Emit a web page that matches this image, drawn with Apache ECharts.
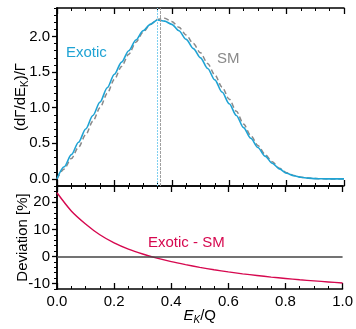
<!DOCTYPE html>
<html>
<head>
<meta charset="utf-8">
<script src="https://cdn.jsdelivr.net/npm/echarts@6/dist/echarts.min.js"></script>
<style>
  html, body { margin: 0; padding: 0; background: #fff; }
  #chart { width: 356px; height: 329px; }
</style>
</head>
<body>
<div id="chart"></div>
<script>
// E_K/Q grid for the spectra
const xs = [0, 0.025, 0.05, 0.075, 0.1, 0.125, 0.15, 0.175, 0.2, 0.225, 0.25, 0.275, 0.3, 0.325, 0.35, 0.375, 0.4,
  0.425, 0.45, 0.475, 0.5, 0.525, 0.55, 0.575, 0.6, 0.625, 0.65, 0.675, 0.7, 0.725, 0.75, 0.775, 0.8,
  0.825, 0.85, 0.875, 0.9, 0.925, 0.95, 0.975, 1.0];
const exotic = [0, 0.17, 0.34, 0.515, 0.70, 0.89, 1.08, 1.28, 1.47, 1.64, 1.80, 1.95, 2.08, 2.17, 2.232, 2.215, 2.17,
  2.08, 1.96, 1.83, 1.70, 1.55, 1.39, 1.22, 1.055, 0.89, 0.72, 0.57, 0.44, 0.32, 0.22, 0.14, 0.08,
  0.045, 0.022, 0.01, 0.004, 0.001, 0, 0, 0];
const sm = [0, 0.14, 0.285, 0.445, 0.62, 0.81, 1.00, 1.20, 1.40, 1.58, 1.75, 1.92, 2.06, 2.17, 2.24, 2.255, 2.21,
  2.13, 2.02, 1.90, 1.77, 1.62, 1.46, 1.29, 1.12, 0.95, 0.77, 0.61, 0.47, 0.345, 0.24, 0.15, 0.087,
  0.049, 0.024, 0.011, 0.004, 0.001, 0, 0, 0];
// deviation (Exotic - SM) in percent
const devX = [0, 0.05, 0.1, 0.15, 0.2, 0.25, 0.3, 0.35, 0.4, 0.45, 0.5, 0.55, 0.6, 0.65, 0.7, 0.75, 0.8, 0.85, 0.9, 0.95, 1.0];
const dev = [23.5, 16.8, 12.0, 8.0, 5.0, 2.7, 0.9, -0.6, -1.9, -3.0, -4.0, -4.9, -5.7, -6.4, -7.0, -7.6, -8.1, -8.6, -9.0, -9.4, -9.8];
// peak positions (vertical markers)
const peakExotic = 0.351;
const peakSM = 0.363;

const CYAN = '#1fa3d4';
const GRAY = '#8a8a8a';
const RED = '#d6084f';
const FONT = 'Liberation Sans';

const pairs = (a, b) => a.map((x, i) => [x, b[i]]);

const mychart = echarts.init(document.getElementById('chart'));

function xAx(grid, pos, labels) {
  return {
    type: 'value', gridIndex: grid, position: pos, min: 0, max: 1, interval: 0.2,
    axisLine: { show: true, onZero: false, lineStyle: { color: '#000', width: 1.5 } },
    axisTick: { show: true, inside: true, length: 6, lineStyle: { color: '#000', width: 1.3 } },
    minorTick: { show: true, splitNumber: 4, length: 3, lineStyle: { color: '#000', width: 1 } },
    splitLine: { show: false },
    axisLabel: { show: labels, margin: 5, color: '#000', fontSize: 15, fontFamily: FONT,
      formatter: v => v.toFixed(1) },
    name: labels && pos === 'bottom' ? '{i|E}{s|K}{n|/Q}' : '',
    nameLocation: 'middle', nameGap: 18, nameMoveOverlap: false,
    nameTextStyle: { rich: {
      i: { fontSize: 15, fontStyle: 'italic', fontFamily: FONT, color: '#000' },
      s: { fontSize: 10, fontStyle: 'italic', fontFamily: FONT, color: '#000', verticalAlign: 'bottom', padding: [8, 0, 0, 0] },
      n: { fontSize: 15, fontFamily: FONT, color: '#000' }
    } }
  };
}

// left axis: labels, major ticks
function yLeft(grid, min, max, split, name) {
  return {
    type: 'value', gridIndex: grid, position: 'left', min: min, max: max, splitNumber: split,
    axisLine: { show: true, lineStyle: { color: '#000', width: 1.5 } },
    axisTick: { show: true, inside: false, length: 5, lineStyle: { color: '#000', width: 1.3 } },
    splitLine: { show: false },
    axisLabel: { show: true, showMinLabel: false, showMaxLabel: false, margin: 7, color: '#000',
      fontSize: 15, fontFamily: FONT, formatter: v => (grid === 0 ? v.toFixed(1) : String(v)) },
    name: name, nameLocation: 'middle', nameRotate: 90, nameGap: 27, nameMoveOverlap: false,
    nameTextStyle: { fontSize: 15, fontFamily: FONT, color: '#000', rich: {
      t: { fontSize: 15, fontFamily: FONT, color: '#000' },
      s: { fontSize: 10, fontFamily: FONT, color: '#000', verticalAlign: 'bottom', padding: [8, 0, 0, 0] }
    } }
  };
}

// right axis: frame line with short inward ticks
function yRight(grid, min, max, step) {
  return {
    type: 'value', gridIndex: grid, position: 'right', min: min, max: max, interval: step,
    axisLine: { show: true, lineStyle: { color: '#000', width: 1.5 } },
    axisTick: { show: true, inside: true, length: 3, lineStyle: { color: '#000', width: 1 } },
    splitLine: { show: false },
    axisLabel: { show: true, formatter: () => '' }
  };
}

const option = {
  animation: false,
  backgroundColor: '#fff',
  grid: [
    { left: 57, right: 12, top: 8, height: 178 },
    { left: 57, right: 12, top: 186, height: 103 }
  ],
  xAxis: [
    xAx(0, 'bottom', false),
    xAx(0, 'top', false),
    xAx(1, 'bottom', true),
    xAx(1, 'top', false)
  ],
  yAxis: [
    yLeft(0, -0.1, 2.4, 5, '{t|(dΓ/dE}{s|K}{t|)/Γ}'),
    yRight(0, -0.1, 2.4, 0.1),
    yLeft(1, -12, 26, 4, 'Deviation [%]'),
    yRight(1, -12, 26, 2)
  ],
  series: [
    {
      name: 'SM', type: 'line', xAxisIndex: 0, yAxisIndex: 0, data: pairs(xs, sm),
      smooth: 0.3, smoothMonotone: 'x', showSymbol: false, z: 2,
      lineStyle: { color: GRAY, width: 1.5, type: [5, 3] },
      markLine: { silent: true, symbol: 'none', label: { show: false },
        lineStyle: { color: '#a0a0a0', width: 1, type: [3, 1] }, data: [{ xAxis: peakSM }] }
    },
    {
      name: 'Exotic', type: 'line', xAxisIndex: 0, yAxisIndex: 0, data: pairs(xs, exotic),
      smooth: 0.3, smoothMonotone: 'x', showSymbol: false, z: 3,
      lineStyle: { color: CYAN, width: 1.6 },
      markLine: { silent: true, symbol: 'none', label: { show: false },
        lineStyle: { color: '#7fd0f0', width: 1, type: [2, 1] }, data: [{ xAxis: peakExotic }] }
    },
    {
      name: 'Exotic - SM', type: 'line', xAxisIndex: 2, yAxisIndex: 2, data: pairs(devX, dev),
      smooth: 0.3, showSymbol: false,
      lineStyle: { color: RED, width: 1.4 },
      markLine: { silent: true, symbol: 'none', label: { show: false },
        lineStyle: { color: '#444', width: 1.5, type: 'solid' }, data: [{ yAxis: 0 }] }
    }
  ],
  graphic: [
    { type: 'text', left: 66, top: 45, style: { text: 'Exotic', fill: CYAN, fontSize: 15, fontFamily: FONT } },
    { type: 'text', left: 217, top: 51, style: { text: 'SM', fill: GRAY, fontSize: 15, fontFamily: FONT } },
    { type: 'text', left: 148, top: 235, style: { text: 'Exotic - SM', fill: RED, fontSize: 15, fontFamily: FONT } }
  ]
};
mychart.setOption(option);
</script>
</body>
</html>
